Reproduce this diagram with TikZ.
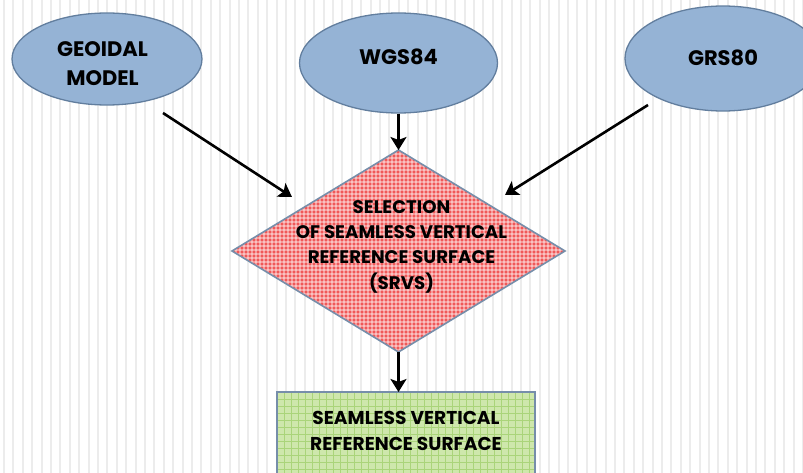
\documentclass[tikz,border=0pt]{standalone}
\usepackage{fontspec}
\setmainfont{Poppins}
\usetikzlibrary{shapes.geometric,arrows.meta,calc}
\definecolor{ellfill}{RGB}{149,179,213}
\definecolor{ellline}{RGB}{98,126,158}
\definecolor{redbase}{RGB}{240,88,88}
\definecolor{greenbase}{RGB}{206,231,172}
\definecolor{greenline}{RGB}{170,212,122}
\definecolor{stripe}{RGB}{236,236,236}
\definecolor{boxline}{RGB}{118,142,170}
\tikzset{
  ell/.style={ellipse, draw=ellline, line width=1.3pt, fill=ellfill, inner sep=0pt},
  lbl/.style={font=\bfseries\fontsize{21}{29}\selectfont, align=center, text=black, inner sep=0pt},
  dtxt/.style={font=\bfseries\fontsize{18.2}{25.3}\selectfont, align=center, text=black, inner sep=0pt},
  rtxt/.style={font=\bfseries\fontsize{18.6}{26}\selectfont, align=center, text=black, inner sep=0pt},
  arr/.style={line width=2.6pt, black, -{Stealth[length=13pt,width=16pt,inset=3pt]}},
  border/.style={draw=boxline, line width=1.6pt},
}
\begin{document}
\begin{tikzpicture}[x=1pt,y=-1pt]
\useasboundingbox (0,0) rectangle (803,473);
\clip (0,0) rectangle (803,473);
\fill[white] (0,0) rectangle (803,473);
\foreach \i in {0,...,85} \draw[stripe, line width=2pt] ({4+9.4*\i},0) -- ({4+9.4*\i},473);

% ellipses
\node[ell, minimum width=190pt, minimum height=92pt] (geo) at (107,59) {};
\node[lbl] (geot) at (102.5,63.5) {GEOIDAL\\MODEL};
\node[ell, minimum width=198pt, minimum height=100pt] (wgs) at (398.5,63) {};
\node[lbl] (wgst) at (398.5,56.5) {WGS84};
\node[ell, minimum width=196pt, minimum height=105pt] (grs) at (723,58.5) {};
\node[lbl] (grst) at (723,57.5) {GRS80};

% diamond
\node[diamond, fill=redbase, minimum width=333pt, minimum height=202pt, inner sep=0pt, outer sep=0pt] (sel) at (398.5,251) {};
\begin{scope}
  \clip (sel.north) -- (sel.east) -- (sel.south) -- (sel.west) -- cycle;
  \foreach \x in {232,236,...,569} \draw[white, opacity=0.4, line width=1.1pt] (\x,148) -- (\x,354);
  \foreach \y in {150,154,...,354} \draw[white, opacity=0.4, line width=1.1pt] (228,\y) -- (570,\y);
\end{scope}
\draw[border] (sel.north) -- (sel.east) -- (sel.south) -- (sel.west) -- cycle;
\node[dtxt] (selt) at (401.5,246.5) {SELECTION\\OF SEAMLESS VERTICAL\\REFERENCE SURFACE\\(SRVS)};

% result box
\node[rectangle, fill=greenbase, minimum width=258pt, minimum height=120pt, inner sep=0pt, outer sep=0pt] (srf) at (406,452) {};
\begin{scope}
  \clip (srf.north west) rectangle (srf.south east);
  \foreach \x in {277,284,...,540} \draw[greenline, line width=0.8pt] (\x,392) -- (\x,515);
  \foreach \y in {392,399,...,515} \draw[greenline, line width=0.8pt] (277,\y) -- (540,\y);
\end{scope}
\draw[border] (srf.north west) rectangle (srf.south east);
\node[rtxt] (srft) at (406,431) {SEAMLESS VERTICAL\\REFERENCE SURFACE};

% connectors
\coordinate (a1s) at ($(geo)+(56,54)$);
\coordinate (a1e) at ($(sel)+(-106.5,-54)$);
\coordinate (a2s) at ($(grs)+(-75,46.5)$);
\coordinate (a2e) at ($(sel)+(106.5,-56)$);
\draw[arr] (a1s) -- (a1e);
\draw[arr] (a2s) -- (a2e);
\draw[arr] (wgs.south) -- (sel.north);
\draw[arr] (sel.south) -- (sel.south |- srf.north);
\end{tikzpicture}
\end{document}
